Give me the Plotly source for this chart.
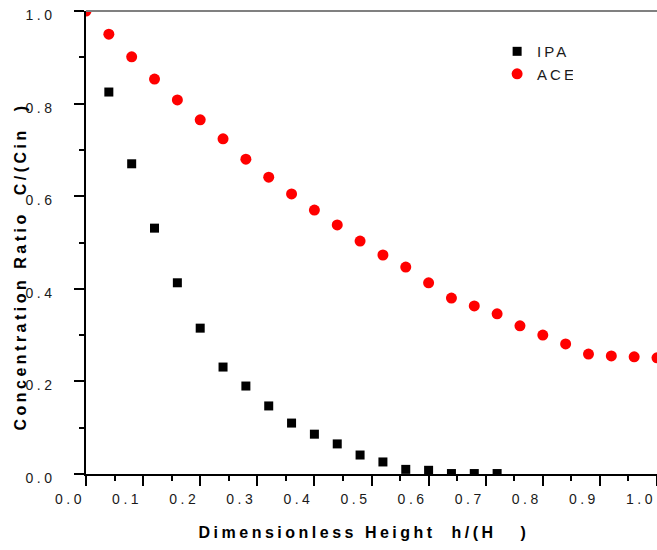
import plotly.graph_objects as go

# Dimensionless height h/H at which each sample was taken
h_ace = [0.00, 0.04, 0.08, 0.12, 0.16, 0.20, 0.24, 0.28, 0.32, 0.36, 0.40, 0.44, 0.48,
         0.52, 0.56, 0.60, 0.64, 0.68, 0.72, 0.76, 0.80, 0.84, 0.88, 0.92, 0.96, 1.00]
h_ipa = [0.04, 0.08, 0.12, 0.16, 0.20, 0.24, 0.28, 0.32, 0.36, 0.40, 0.44, 0.48,
         0.52, 0.56, 0.60, 0.64, 0.68, 0.72]

# Concentration ratio C/Cin
c_ace = [1.000, 0.950, 0.901, 0.853, 0.808, 0.765, 0.724, 0.680, 0.641, 0.605, 0.570,
         0.538, 0.503, 0.473, 0.447, 0.413, 0.380, 0.363, 0.346, 0.320, 0.300, 0.281,
         0.259, 0.255, 0.253, 0.251]
c_ipa = [0.825, 0.670, 0.531, 0.413, 0.315, 0.231, 0.190, 0.147, 0.110, 0.086, 0.065,
         0.041, 0.026, 0.010, 0.008, 0.001, 0.001, 0.001]

series_names = ["IPA", "ACE"]

x_tickvals = [0.0, 0.1, 0.2, 0.3, 0.4, 0.5, 0.6, 0.7, 0.8, 0.9, 1.0]
x_ticktext = ["0.0", "0.1", "0.2", "0.3", "0.4", "0.5", "0.6", "0.7", "0.8", "0.9", "1.0"]
y_tickvals = [0.0, 0.2, 0.4, 0.6, 0.8, 1.0]
y_ticktext = ["0.0", "0.2", "0.4", "0.6", "0.8", "1.0"]

x_title = "Dimensionless Height  h/(H   )"
y_title = "Concentration Ratio  C/(Cin  )"

FONT = "Liberation Sans, Arial, sans-serif"

fig = go.Figure()
fig.add_trace(go.Scatter(
    x=h_ipa, y=c_ipa, mode="markers", name=series_names[0],
    marker=dict(symbol="square", size=9, color="#000000", line=dict(width=0)),
))
fig.add_trace(go.Scatter(
    x=h_ace, y=c_ace, mode="markers", name=series_names[1],
    marker=dict(symbol="circle", size=11, color="#ff0000", line=dict(width=0)),
))

axis_common = dict(
    showgrid=False, zeroline=False, showline=True, linecolor="#000000", linewidth=1.5,
    ticks="outside", tickcolor="#000000", tickwidth=1.5, ticklen=10,
    tickfont=dict(family=FONT, size=14, color="#1a1a1a"),
    tickmode="array",
)

fig.update_xaxes(
    range=[0, 1.0], tickvals=x_tickvals, ticktext=x_ticktext,
    minor=dict(ticks="outside", ticklen=5, tickwidth=1.5, tickcolor="#000000", dtick=0.05,
               tick0=0, showgrid=False),
    ticklabelshift=-16, ticklabelstandoff=1,
    **axis_common,
)
fig.update_yaxes(
    range=[0, 1.0], tickvals=y_tickvals, ticktext=y_ticktext,
    minor=dict(ticks="outside", ticklen=5, tickwidth=1.5, tickcolor="#000000", dtick=0.1,
               tick0=0, showgrid=False),
    ticklabelshift=4, ticklabelstandoff=16,
    **axis_common,
)

# Thin grey frame line along the top of the plot area
fig.add_shape(type="line", xref="paper", yref="paper", x0=0, x1=1, y0=1, y1=1,
              line=dict(color="#808080", width=2))

fig.add_annotation(text=x_title, xref="paper", yref="paper", x=0.486, y=-0.1274,
                   xanchor="center", yanchor="middle", showarrow=False,
                   font=dict(family=FONT, size=16, color="#000000", weight="bold"))
fig.add_annotation(text=y_title, xref="paper", yref="paper", x=-0.1156, y=0.449,
                   textangle=-90, xanchor="center", yanchor="middle", showarrow=False,
                   font=dict(family=FONT, size=16, color="#000000", weight="bold"))

fig.update_layout(
    width=657, height=550,
    margin=dict(l=86, r=0, t=11, b=76, pad=0),
    paper_bgcolor="#ffffff", plot_bgcolor="#ffffff",
    showlegend=True,
    legend=dict(x=0.72, y=0.948, xanchor="left", yanchor="top",
                bgcolor="rgba(0,0,0,0)", borderwidth=0,
                font=dict(family=FONT, size=15, color="#1a1a1a")),
)

# Widen the letter spacing of the tick labels, titles and legend entries
post = """
var gd = document.getElementById('{plot_id}');
function spread(sel, v) {
  gd.querySelectorAll(sel).forEach(function (t) { t.style.letterSpacing = v; });
}
spread('.xtick text', '3.5px');
spread('.ytick text', '3.5px');
spread('.legendtext', '3px');
spread('.annotation-text', '3.5px');
"""

fig.write_html("out.html", post_script=post)
